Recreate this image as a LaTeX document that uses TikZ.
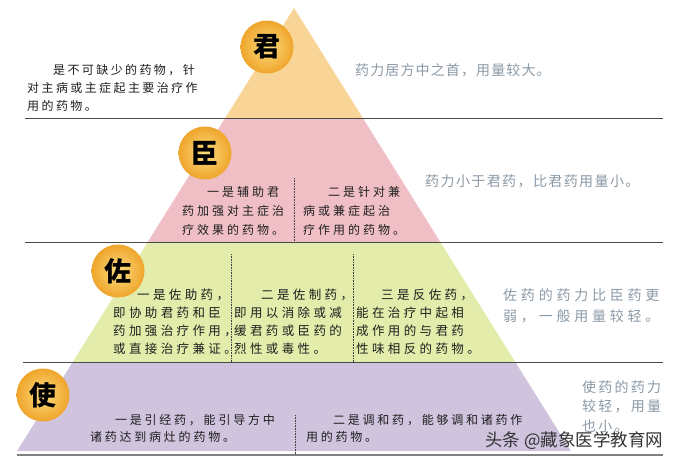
\documentclass[tikz,border=0pt]{standalone}
\usepackage{fontspec}
\setmainfont{Noto Sans CJK SC}
\newfontfamily\cnfont{Noto Sans CJK SC}
\definecolor{junfill}{HTML}{F8D596}
\definecolor{chenfill}{HTML}{F0BFC6}
\definecolor{zuofill}{HTML}{E3ECAA}
\definecolor{shifill}{HTML}{CFC3DE}
\definecolor{notegray}{HTML}{8C9AA7}
\definecolor{badgeout}{HTML}{EFA52C}
\definecolor{badgein}{HTML}{FDDD7E}
\definecolor{rulegray}{HTML}{4A4A4A}
\begin{document}
\begin{tikzpicture}[x=1pt,y=-1pt,
  desc/.style={anchor=north west,inner sep=0pt,align=left,text=black!88},
  note/.style={anchor=north west,inner sep=0pt,align=left,text=notegray},
  badge/.style={circle,minimum size=53pt,inner sep=0pt,inner color=badgein,outer color=badgeout,
    font=\cnfont\bfseries\fontsize{27}{27}\selectfont},
  rule/.style={rulegray,line width=0.8pt},
  split/.style={black!75,line width=0.6pt,densely dotted}]
  \useasboundingbox (0,0) rectangle (673,461);
  \fill[white] (0,0) rectangle (673,461);
  % pyramid, one band per level
  \coordinate (apex) at (294,8);
  \coordinate (baseL) at (17.1,451);
  \coordinate (baseR) at (570.9,451);
  \foreach \top/\bot/\col in {8/118/junfill,118/242/chenfill,242/362/zuofill,362/451/shifill}{
    \begin{scope}
      \clip (0,\top) rectangle (673,\bot);
      \fill[\col] (apex) -- (baseL) -- (baseR) -- cycle;
    \end{scope}
  }
  % level rules
  \draw[rule] (25,118) -- (663,118);
  \draw[rule] (25,242) -- (663,242);
  \draw[rule] (23,362) -- (663,362);
  \draw[gray,line width=2pt] (17,455) -- (663,455);
  \draw[split] (294,178) -- (294,242);
  \draw[split] (231,254) -- (231,362);
  \draw[split] (353,254) -- (353,362);
  \draw[split] (295,415) -- (295,455);
  % badges
  \node[badge] (jun) at (267,47) {君};
  \node[badge] (chen) at (205,153) {臣};
  \node[badge] (zuo) at (118,271) {佐};
  \node[badge] (shi) at (43,395) {使};
  % left texts
  \node[desc,font=\cnfont\fontsize{12}{18}\selectfont\addfontfeature{LetterSpace=20}] (jundesc) at (27,64)
    {\hspace*{26pt}是不可缺少的药物，针\\对主病或主症起主要治疗作\\用的药物。};
  \node[desc,font=\cnfont\fontsize{12}{19}\selectfont\addfontfeature{LetterSpace=25}] (chendescA) at (182,186)
    {\hspace*{25pt}一是辅助君\\药加强对主症治\\疗效果的药物。};
  \node[desc,font=\cnfont\fontsize{12}{19}\selectfont\addfontfeature{LetterSpace=25}] (chendescB) at (303,186)
    {\hspace*{25pt}二是针对兼\\病或兼症起治\\疗作用的药物。};
  \node[desc,font=\cnfont\fontsize{12.5}{18}\selectfont\addfontfeature{LetterSpace=27}] (zuodescA) at (113,289)
    {\hspace*{24pt}一是佐助药，\\即协助君药和臣\\药加强治疗作用，\\或直接治疗兼证。};
  \node[desc,font=\cnfont\fontsize{12.5}{18}\selectfont\addfontfeature{LetterSpace=27}] (zuodescB) at (234,289)
    {\hspace*{27pt}二是佐制药，\\即用以消除或减\\缓君药或臣药的\\烈性或毒性。};
  \node[desc,font=\cnfont\fontsize{12.5}{18}\selectfont\addfontfeature{LetterSpace=27}] (zuodescC) at (356,289)
    {\hspace*{25pt}三是反佐药，\\能在治疗中起相\\成作用的与君药\\性味相反的药物。};
  \node[desc,font=\cnfont\fontsize{12}{17}\selectfont\addfontfeature{LetterSpace=23}] (shidescA) at (90,414)
    {\hspace*{25pt}一是引经药，能引导方中\\诸药达到病灶的药物。};
  \node[desc,font=\cnfont\fontsize{12}{17}\selectfont\addfontfeature{LetterSpace=23}] (shidescB) at (306,414)
    {\hspace*{27pt}二是调和药，能够调和诸药作\\用的药物。};
  % right notes
  \node[note,font=\cnfont\fontsize{14}{21}\selectfont\addfontfeature{LetterSpace=8}] (junnote) at (355,63)
    {药力居方中之首，用量较大。};
  \node[note,font=\cnfont\fontsize{14}{21}\selectfont\addfontfeature{LetterSpace=10}] (chennote) at (425,175)
    {药力小于君药，比君药用量小。};
  \node[note,font=\cnfont\fontsize{14}{21}\selectfont\addfontfeature{LetterSpace=27}] (zuonote) at (503,288)
    {佐药的药力比臣药更\\弱，一般用量较轻。};
  \node[note,font=\cnfont\fontsize{14}{19.5}\selectfont\addfontfeature{LetterSpace=16}] (shinote) at (582,380)
    {使药的药力\\较轻，用量\\也小。};
  \node[anchor=west,inner sep=0pt,text=black!80,font=\cnfont\fontsize{17.5}{18}\selectfont] (mark) at (485,441)
    {头条 @藏象医学教育网};
\end{tikzpicture}
\end{document}
